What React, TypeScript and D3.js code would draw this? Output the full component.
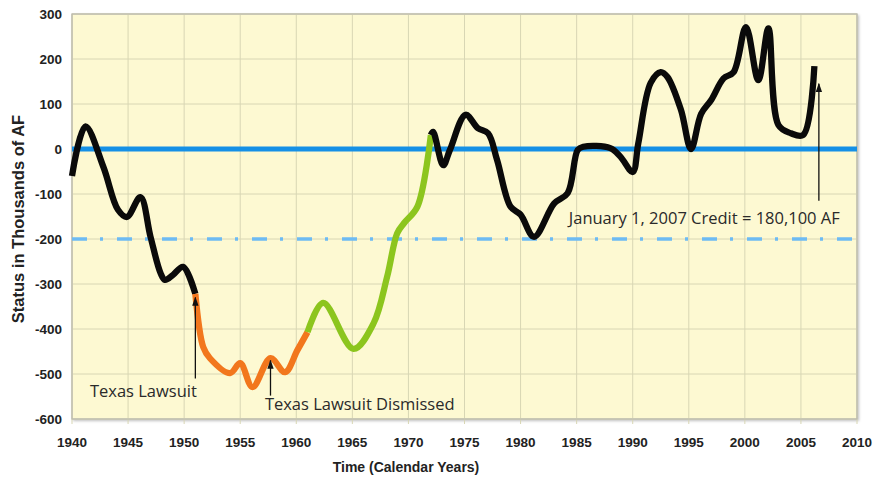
import React from "react";
import * as d3 from "d3";

const W = 877;
const H = 478;

const xTicks = [1940, 1945, 1950, 1955, 1960, 1965, 1970, 1975, 1980, 1985, 1990, 1995, 2000, 2005, 2010];
const yTicks = [300, 200, 100, 0, -100, -200, -300, -400, -500, -600];

// Segment 1 (black): 1940 - 1951
const blackEarlyYears = [1940, 1941.2, 1942.8, 1944.1, 1944.9, 1946.1, 1947, 1947.9, 1948.3, 1949, 1949.9, 1951];
const blackEarlyValues = [-60, 50, -40, -135, -151, -107, -195, -276, -291, -280, -262, -322];

// Segment 2 (orange): 1951 - 1961
const orangeYears = [1951, 1951.7, 1952.3, 1954.1, 1955, 1956.1, 1957.7, 1959, 1960.1, 1961];
const orangeValues = [-322, -440, -465, -498, -476, -529, -465, -496, -447, -407];

// Segment 3 (green): 1961 - 1972
const greenYears = [1961, 1962.4, 1965.1, 1966.9, 1968.1, 1969, 1969.6, 1970.8, 1972];
const greenValues = [-407, -342, -444, -387, -284, -187, -165, -128, 31];

// Segment 4 (black): 1972 - 2006
const blackLateYears = [1972, 1972.2, 1973.1, 1973.7, 1975.1, 1976.2, 1977.1, 1977.9, 1979.1, 1980, 1981.2, 1983, 1984.2, 1985.1, 1985.6, 1988, 1988.9, 1990, 1990.5, 1991.6, 1992.5, 1993.1, 1994.3, 1995.2, 1996.1, 1997, 1998.1, 1999, 2000.1, 2001.2, 2002.1, 2003, 2004.1, 2005.2, 2006.2];
const blackLateValues = [31, 38, -36, -2, 76, 46, 35, -24, -128, -146, -195, -121, -98, -2, 5, 2, -17, -51, 13, 147, 171, 160, 87, 0, 78, 109, 157, 171, 271, 153, 268, 53, 35, 31, 184];

const zeroLine = 0;
const thresholdLine = -200;

const annotations = [
  { label: "Texas Lawsuit", year: 1951, fromValue: -510, toValue: -330, textYear: 1941.6, textValue: -538 },
  { label: "Texas Lawsuit Dismissed", year: 1957.7, fromValue: -548, toValue: -470, textYear: 1957.2, textValue: -567 },
  { label: "January 1, 2007 Credit = 180,100 AF", year: 2006.6, fromValue: -115, toValue: 145, textYear: 1984.3, textValue: -153 },
];

const margin = { left: 72, right: W - 857, top: 14, bottom: H - 419 };

export default function App() {
  const x = d3.scaleLinear().domain([1940, 2010]).range([margin.left, W - margin.right]);
  const y = d3.scaleLinear().domain([-600, 300]).range([H - margin.bottom, margin.top]);

  const line = d3
    .line<[number, number]>()
    .x((d) => x(d[0]))
    .y((d) => y(d[1]))
    .curve(d3.curveCatmullRom.alpha(0.5));

  const seg = (ys: number[], vs: number[]) => line(ys.map((yr, i) => [yr, vs[i]] as [number, number])) || "";

  const segments = [
    { d: seg(blackEarlyYears, blackEarlyValues), color: "#0a0a0a" },
    { d: seg(orangeYears, orangeValues), color: "#f2771d" },
    { d: seg(greenYears, greenValues), color: "#8cc51e" },
    { d: seg(blackLateYears, blackLateValues), color: "#0a0a0a" },
  ];

  const x0 = x(1940);
  const x1 = x(2010);
  const y0 = y(300);
  const y1 = y(-600);

  return (
    <div style={{ position: "absolute", left: 0, top: 0 }}>
      <svg width={W} height={H} style={{ display: "block", background: "#ffffff" }}>
        <defs>
          <marker id="arr" viewBox="0 0 10 10" refX="9" refY="5" markerWidth="7" markerHeight="9" orient="auto">
            <path d="M0,1.5 L10,5 L0,8.5 Z" fill="#111" />
          </marker>
          <filter id="shadow" x="-5%" y="-5%" width="110%" height="110%">
            <feDropShadow dx="1.5" dy="1.5" stdDeviation="1.2" floodColor="#000" floodOpacity="0.25" />
          </filter>
        </defs>

        <rect x={x0} y={y0} width={x1 - x0} height={y1 - y0} fill="#fdf9d2" stroke="#b9b8ae" strokeWidth={1} filter="url(#shadow)" />

        {xTicks.map((t) => (
          <line key={"gx" + t} x1={x(t)} x2={x(t)} y1={y0} y2={y1 + 5} stroke="#d8d6b4" strokeWidth={1} />
        ))}
        {yTicks.map((t) => (
          <line key={"gy" + t} x1={x0} x2={x1} y1={y(t)} y2={y(t)} stroke="#d8d6b4" strokeWidth={1} />
        ))}
        <rect x={x0} y={y0} width={x1 - x0} height={y1 - y0} fill="none" stroke="#b9b8ae" strokeWidth={1} />

        <line x1={x0} x2={x1} y1={y(thresholdLine)} y2={y(thresholdLine)} stroke="#6dbbf3" strokeWidth={3.5} strokeDasharray="15 13 3 14" />
        <line x1={x0} x2={x1} y1={y(zeroLine)} y2={y(zeroLine)} stroke="#1590e6" strokeWidth={5} />

        {segments.map((s, i) => (
          <path key={i} d={s.d} fill="none" stroke={s.color} strokeWidth={6.3} strokeLinecap="butt" strokeLinejoin="round" />
        ))}

        {annotations.map((a) => (
          <g key={a.label}>
            <line x1={x(a.year)} x2={x(a.year)} y1={y(a.fromValue)} y2={y(a.toValue)} stroke="#111" strokeWidth={1.3} markerEnd="url(#arr)" />
            <text x={x(a.textYear)} y={y(a.textValue)} dy="0.35em" textAnchor="start" fontFamily="'Open Sans', sans-serif" fontSize={16.5} fill="#2a2a2a">
              {a.label}
            </text>
          </g>
        ))}

        {yTicks.map((t) => (
          <text key={"ty" + t} x={x0 - 10} y={y(t)} dy="0.35em" textAnchor="end" fontFamily="'Liberation Sans', Arial, sans-serif" fontWeight="bold" fontSize={13.5} fill="#222">
            {t}
          </text>
        ))}
        {xTicks.map((t) => (
          <text key={"tx" + t} x={x(t)} y={y1 + 23} dy="0.35em" textAnchor="middle" fontFamily="'Liberation Sans', Arial, sans-serif" fontWeight="bold" fontSize={13.5} fill="#222">
            {t}
          </text>
        ))}

        <text x={406} y={467} dy="0.35em" textAnchor="middle" fontFamily="'Liberation Sans', Arial, sans-serif" fontWeight="bold" fontSize={14} fill="#222">
          Time (Calendar Years)
        </text>
        <text transform={`translate(18, 219) rotate(-90)`} dy="0.35em" textAnchor="middle" fontFamily="'Liberation Sans', Arial, sans-serif" fontWeight="bold" fontSize={16.5} fill="#222">
          Status in Thousands of AF
        </text>
      </svg>
    </div>
  );
}
